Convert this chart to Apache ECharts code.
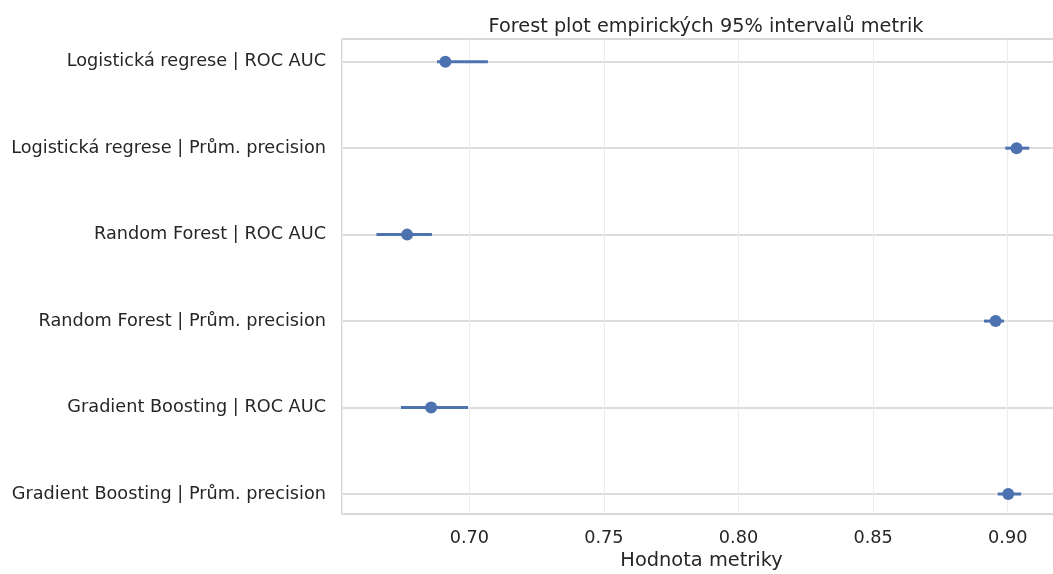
<!DOCTYPE html>
<html>
<head>
<meta charset="utf-8">
<script src="https://cdn.jsdelivr.net/npm/echarts@6/dist/echarts.min.js"></script>
<style>
  html, body { margin: 0; padding: 0; background: #fff; }
  #chart { width: 1053px; height: 574px; }
</style>
</head>
<body>
<div id="chart"></div>
<script>
// Model | metric rows, top to bottom
const categories = [
  'Logistická regrese | ROC AUC',
  'Logistická regrese | Prům. precision',
  'Random Forest | ROC AUC',
  'Random Forest | Prům. precision',
  'Gradient Boosting | ROC AUC',
  'Gradient Boosting | Prům. precision'
];
// point estimates and empirical 95% interval bounds
const estimates = [0.6911, 0.9033, 0.6769, 0.8955, 0.6858, 0.9002];
const lower     = [0.6880, 0.8991, 0.6655, 0.8912, 0.6746, 0.8963];
const upper     = [0.7069, 0.9080, 0.6861, 0.8986, 0.6995, 0.9050];
const xTicks = [0.70, 0.75, 0.80, 0.85, 0.90];

const X_MIN = 0.6527, X_MAX = 0.9198;
const BLUE = '#4c72b0';
const TEXT = '#262626';
const FONT = 'DejaVu Sans';

const intervalData = categories.map((c, i) => [lower[i], upper[i], i]);
const pointData = categories.map((c, i) => [estimates[i], i]);

const chart = echarts.init(document.getElementById('chart'), null, { renderer: 'canvas' });
chart.setOption({
  backgroundColor: '#fff',
  animation: false,
  title: {
    text: 'Forest plot empirických 95% intervalů metrik',
    left: 701, top: 12, textAlign: 'center',
    textStyle: { fontFamily: FONT, fontSize: 19.3, fontWeight: 'normal', color: TEXT }
  },
  grid: [
    // outer frame with x ticks and vertical grid; it runs past the right edge
    { left: 342, width: 719, top: 39, height: 475, show: true, borderColor: '#cccccc', borderWidth: 1.5,
      containLabel: false, outerBoundsMode: 'none' },
    // inner area where category rows sit
    { left: 342, width: 719, top: 61.7, height: 432.3, containLabel: false, outerBoundsMode: 'none' }
  ],
  xAxis: [
    {
      gridIndex: 0, type: 'value', min: X_MIN, max: X_MAX,
      name: 'Hodnota metriky', nameLocation: 'middle', nameGap: 31,
      nameTextStyle: { fontFamily: FONT, fontSize: 19.4, color: TEXT },
      axisLine: { show: false }, axisTick: { show: false },
      axisLabel: {
        customValues: xTicks, fontFamily: FONT, fontSize: 17.7, color: TEXT, margin: 15,
        formatter: v => v.toFixed(2)
      },
      splitLine: { show: true, lineStyle: { color: '#ececec', width: 1 } }
    },
    {
      gridIndex: 1, type: 'value', min: X_MIN, max: X_MAX, show: false,
      splitLine: { show: false }
    }
  ],
  yAxis: [
    { gridIndex: 0, type: 'value', min: 0, max: 1, show: false, splitLine: { show: false } },
    {
      gridIndex: 1, type: 'category', data: categories, inverse: true, boundaryGap: false,
      axisLine: { show: false }, axisTick: { show: false },
      axisLabel: { fontFamily: FONT, fontSize: 17.7, color: TEXT, margin: 16 },
      splitLine: { show: true, lineStyle: { color: '#d0d0d0', width: 1.5 } }
    }
  ],
  series: [
    {
      type: 'custom', xAxisIndex: 1, yAxisIndex: 1, data: intervalData, z: 3,
      renderItem: (params, api) => {
        const a = api.coord([api.value(0), api.value(2)]);
        const b = api.coord([api.value(1), api.value(2)]);
        return {
          type: 'line',
          shape: { x1: a[0], y1: a[1], x2: b[0], y2: b[1] },
          style: { stroke: BLUE, lineWidth: 3 }
        };
      }
    },
    {
      type: 'scatter', xAxisIndex: 1, yAxisIndex: 1, data: pointData, z: 4,
      symbol: 'circle', symbolSize: 12,
      itemStyle: { color: BLUE, opacity: 1 }
    }
  ]
});
</script>
</body>
</html>
